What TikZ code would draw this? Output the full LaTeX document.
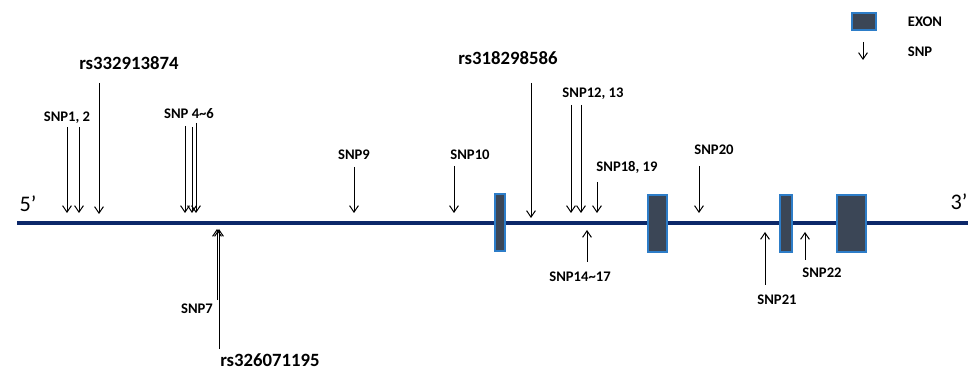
\documentclass[tikz,border=0pt]{standalone}
\usepackage{fontspec}
\setmainfont{Carlito}
\usetikzlibrary{arrows.meta}

\definecolor{blugene}{RGB}{12,40,105}
\definecolor{esonefill}{RGB}{59,70,86}
\definecolor{esonebordo}{RGB}{45,125,200}

\begin{document}
\begin{tikzpicture}[
	x=0.03cm, y=-0.03cm,
	>={Straight Barb[length=5.5pt,width=7.5pt]},
	gene/.style={line width=2.6pt, blugene},
	esone/.style={fill=esonefill, draw=esonebordo, line width=1.4pt},
	snp/.style={->, line width=0.85pt, black},
	etich/.style={font=\bfseries\fontsize{12.5}{14}\selectfont, inner sep=0pt},
	rsetich/.style={font=\bfseries\fontsize{16}{18}\selectfont, inner sep=0pt},
	primo/.style={font=\fontsize{19}{21}\selectfont, inner sep=0pt}]
	
	\useasboundingbox (0,0) rectangle (978,371);
	
	%% filamento 5' -> 3'
	\coordinate (g5) at (17,223);
	\coordinate (g3) at (968,223);
	\draw[gene] (g5) -- (g3);
	\node[primo] (p5) at (28,204) {5’};
	\node[primo] (p3) at (959,202) {3’};
	
	%% esoni
	\draw[esone] (495,194) rectangle (505,251);
	\draw[esone] (648,195) rectangle (667,252);
	\draw[esone] (780,195) rectangle (792,252);
	\draw[esone] (837,195) rectangle (866,252);
	
	%% SNP sopra il filamento (freccia verso il basso)
	\foreach \n/\x/\ya/\yb in {1/67/127/213, 2/79/127/213, rsA/99/83/214,
		4/185/126/213, 5/192/127/213, 6/196/123/213, 9/354/167/213,
		10/454/166/213, rsB/531/83/218, 12/571/105/213, 13/581/105/213,
		18/597/182/213, 20/699/166/213}{
		\coordinate (snp\n-a) at (\x,\ya);
		\coordinate (snp\n-b) at (\x,\yb);
		\draw[snp] (snp\n-a) -- (snp\n-b);
	}
	
	%% SNP sotto il filamento (freccia verso l'alto)
	\foreach \n/\x/\ya/\yb in {7/217/300/229, rsC/219/349/229,
		14/587/262/230, 21/765/285/232, 22/805/260/232}{
		\coordinate (snp\n-a) at (\x,\ya);
		\coordinate (snp\n-b) at (\x,\yb);
		\draw[snp] (snp\n-a) -- (snp\n-b);
	}
	
	%% etichette
	\node[rsetich] (rsA) at (129,63) {rs332913874};
	\node[rsetich] (rsB) at (508,58) {rs318298586};
	\node[rsetich] (rsC) at (270,360) {rs326071195};
	\node[etich] (e12) at (67,118) {SNP1, 2};
	\node[etich] (e46) at (189,114) {SNP 4\textasciitilde6};
	\node[etich] (e7) at (197,309) {SNP7};
	\node[etich] (e9) at (354,155) {SNP9};
	\node[etich] (e10) at (470,155) {SNP10};
	\node[etich] (e1213) at (593,94) {SNP12, 13};
	\node[etich] (e1819) at (627,167) {SNP18, 19};
	\node[etich] (e1417) at (580,277) {SNP14\textasciitilde17};
	\node[etich] (e20) at (714,150) {SNP20};
	\node[etich] (e21) at (777,300) {SNP21};
	\node[etich] (e22) at (822,273) {SNP22};
	
	%% legenda
	\draw[esone] (852,13) rectangle (876,30);
	\coordinate (leg-a) at (863,42);
	\coordinate (leg-b) at (863,60);
	\draw[snp] (leg-a) -- (leg-b);
	\node[etich] (legE) at (925,22) {EXON};
	\node[etich] (legS) at (920,52) {SNP};
	
\end{tikzpicture}
\end{document}
